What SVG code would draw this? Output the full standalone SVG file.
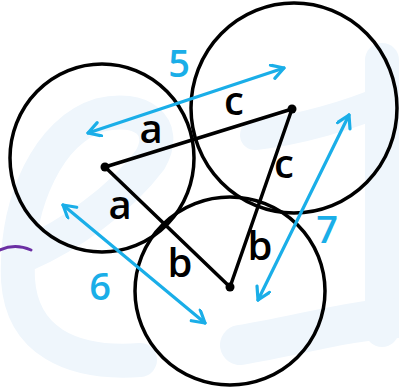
<svg xmlns="http://www.w3.org/2000/svg" width="399" height="389" viewBox="0 0 399 389">
<style>
.wm{fill:none;stroke:#eff6fc;stroke-linecap:round;stroke-linejoin:round}
.circ{fill:none;stroke:#000;stroke-width:3.5}
.side{stroke:#000;stroke-width:3.5;stroke-linecap:round}
.dot{fill:#000}
.lbl{font-family:"Open Sans","DejaVu Sans",sans-serif;font-size:40px;font-weight:600;fill:#000;text-anchor:middle}
.num{font-family:"Open Sans","DejaVu Sans",sans-serif;font-size:38px;font-weight:600;fill:#1aaee8;text-anchor:middle}
.arr{stroke:#1aaee8;stroke-width:3.2;fill:none;stroke-linecap:round;marker-start:url(#ah);marker-end:url(#ah)}
</style>
<defs>
<marker id="ah" markerUnits="userSpaceOnUse" markerWidth="20" markerHeight="20" refX="14" refY="8" orient="auto-start-reverse">
<path d="M2,1 L14,8 L2,15" fill="none" stroke="#1aaee8" stroke-width="3.2" stroke-linecap="round" stroke-linejoin="round"/>
</marker>
</defs>
<rect width="399" height="389" fill="#fff"/>
<g id="watermark">
<path class="wm" stroke-width="34" d="M25,255 C70,235 120,200 150,160 C170,125 140,105 100,115 C50,130 15,200 18,280 C22,340 70,365 140,360"/>
<path class="wm" stroke-width="30" d="M255,135 C300,130 350,115 385,100"/>
<path class="wm" stroke-width="34" d="M382,60 L382,330"/>
<path class="wm" stroke-width="40" d="M240,345 C300,335 350,320 399,318"/>
</g>
<g id="purple-mark">
<path d="M0,250 Q15,243 31,250" fill="none" stroke="#6b2fa3" stroke-width="3" stroke-linecap="round"/>
</g>
<g id="circle-a">
<ellipse class="circ" cx="102" cy="158" rx="92" ry="94"/>
</g>
<g id="circle-b">
<ellipse class="circ" cx="294" cy="108" rx="103" ry="105"/>
</g>
<g id="circle-c">
<ellipse class="circ" cx="230" cy="291" rx="95" ry="94"/>
</g>
<g id="connectors">
<line class="side" x1="105" y1="167" x2="292" y2="109"/>
<line class="side" x1="292" y1="109" x2="230" y2="287"/>
<line class="side" x1="105" y1="167" x2="230" y2="287"/>
<line class="arr" x1="88" y1="133" x2="284" y2="68"/>
<line class="arr" x1="63" y1="205" x2="205" y2="323"/>
<line class="arr" x1="349" y1="115" x2="258" y2="300"/>
</g>
<g id="vertices">
<circle class="dot" cx="105" cy="167" r="4.5"/>
<circle class="dot" cx="292" cy="109" r="4.5"/>
<circle class="dot" cx="230" cy="287" r="4.5"/>
</g>
<g id="labels">
<text class="lbl" x="151" y="143">a</text>
<text class="lbl" x="120" y="219">a</text>
<text class="lbl" x="234" y="115">c</text>
<text class="lbl" x="284" y="178">c</text>
<text class="lbl" x="180" y="277">b</text>
<text class="lbl" x="260" y="260">b</text>
<text class="num" x="179" y="77">5</text>
<text class="num" x="100" y="300">6</text>
<text class="num" x="327" y="243">7</text>
</g>
</svg>
